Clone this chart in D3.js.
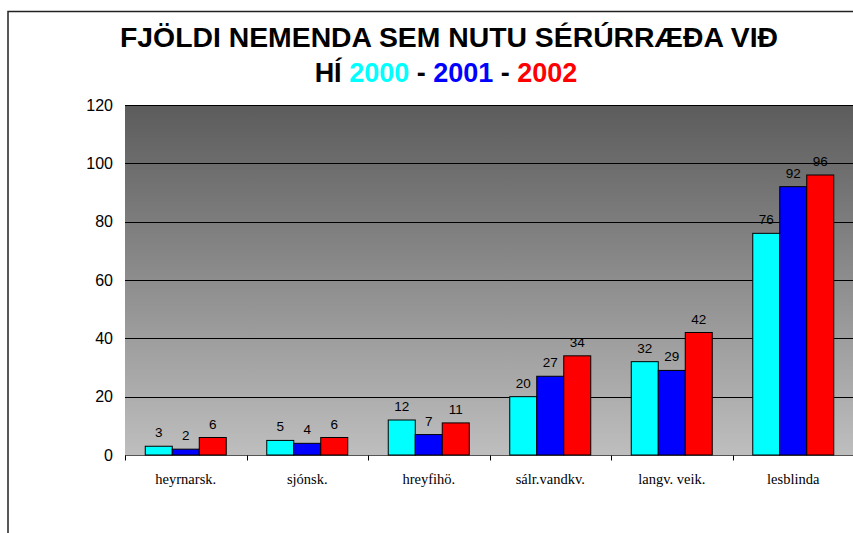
<!DOCTYPE html>
<html>
<head>
<meta charset="utf-8">
<script src="https://cdn.jsdelivr.net/npm/d3@7"></script>
<style>
  body { margin: 0; background: #fff; }
</style>
</head>
<body>
<script>
var categories = ['heyrnarsk.', 'sjónsk.', 'hreyfihö.', 'sálr.vandkv.', 'langv. veik.', 'lesblinda'];
var years = ['2000', '2001', '2002'];
var v2000 = [3, 5, 12, 20, 32, 76];
var v2001 = [2, 4, 7, 27, 29, 92];
var v2002 = [6, 6, 11, 34, 42, 96];
var yTicks = [0, 20, 40, 60, 80, 100, 120];
var colors = ['#00ffff', '#0000ff', '#ff0000'];

var series = [v2000, v2001, v2002];
var width = 853, height = 533;
var plot = { left: 125, top: 105, right: 854, bottom: 455 };

var svg = d3.select('body').append('svg')
  .attr('width', width)
  .attr('height', height);

// outer chart frame
svg.append('rect')
  .attr('x', 8).attr('y', 11.5)
  .attr('width', 900).attr('height', 600)
  .attr('fill', 'none')
  .attr('stroke', '#222')
  .attr('stroke-width', 1.5);

var grad = svg.append('defs').append('linearGradient')
  .attr('id', 'bg').attr('x1', 0).attr('y1', 0).attr('x2', 0).attr('y2', 1);
grad.append('stop').attr('offset', '0%').attr('stop-color', '#5c5c5c');
grad.append('stop').attr('offset', '100%').attr('stop-color', '#bebebe');

var x = d3.scaleBand()
  .domain(categories)
  .range([plot.left, plot.right]);

var x1 = d3.scaleBand()
  .domain(years)
  .range([0, x.bandwidth()])
  .paddingOuter(0.75)
  .paddingInner(0);

var y = d3.scaleLinear()
  .domain([0, 120])
  .range([plot.bottom, plot.top]);

svg.append('rect')
  .attr('x', plot.left).attr('y', plot.top)
  .attr('width', plot.right - plot.left)
  .attr('height', plot.bottom - plot.top)
  .attr('fill', 'url(#bg)');

// gridlines
svg.append('g').selectAll('line')
  .data(yTicks.slice(1))
  .enter().append('line')
  .attr('x1', plot.left).attr('x2', plot.right)
  .attr('y1', d => Math.round(y(d)) + 0.5)
  .attr('y2', d => Math.round(y(d)) + 0.5)
  .attr('stroke', '#000')
  .attr('stroke-width', 1);

// y axis labels
var yAxis = d3.axisLeft(y).tickValues(yTicks).tickSize(0).tickPadding(12);
var gy = svg.append('g')
  .attr('transform', 'translate(' + plot.left + ',0)')
  .call(yAxis);
gy.select('.domain').remove();
gy.selectAll('text')
  .attr('font-family', 'Liberation Sans, Arial, sans-serif')
  .attr('font-size', 16)
  .attr('fill', '#000');

// x axis
var xAxis = d3.axisBottom(x).tickSize(0).tickPadding(18);
var gx = svg.append('g')
  .attr('transform', 'translate(0,' + (plot.bottom + 0.5) + ')')
  .call(xAxis);
gx.select('.domain').attr('stroke', '#555').attr('d', 'M' + plot.left + ',0H' + plot.right);
gx.selectAll('text')
  .attr('font-family', 'Liberation Serif, Times New Roman, serif')
  .attr('font-size', 14.5)
  .attr('fill', '#000');
gx.selectAll('line.sep')
  .data(categories)
  .enter().append('line')
  .attr('class', 'sep')
  .attr('x1', d => Math.round(x(d)) + 0.5)
  .attr('x2', d => Math.round(x(d)) + 0.5)
  .attr('y1', 0).attr('y2', 5)
  .attr('stroke', '#000');

// bars
var groups = svg.append('g').selectAll('g')
  .data(categories)
  .enter().append('g')
  .attr('transform', d => 'translate(' + x(d) + ',0)');

groups.selectAll('rect')
  .data((d, i) => years.map((yr, j) => ({ yr: yr, v: series[j][i], c: colors[j] })))
  .enter().append('rect')
  .attr('x', d => x1(d.yr))
  .attr('y', d => y(d.v))
  .attr('width', x1.bandwidth())
  .attr('height', d => y(0) - y(d.v))
  .attr('fill', d => d.c)
  .attr('stroke', '#000')
  .attr('stroke-width', 1);

groups.selectAll('text')
  .data((d, i) => years.map((yr, j) => ({ yr: yr, v: series[j][i] })))
  .enter().append('text')
  .attr('x', d => x1(d.yr) + x1.bandwidth() / 2)
  .attr('y', d => y(d.v) - 9)
  .attr('text-anchor', 'middle')
  .attr('font-family', 'Liberation Sans, Arial, sans-serif')
  .attr('font-size', 13.5)
  .attr('fill', '#000')
  .text(d => d.v);

// title
svg.append('text')
  .attr('x', 449).attr('y', 47)
  .attr('text-anchor', 'middle')
  .attr('font-family', 'Liberation Sans, Arial, sans-serif')
  .attr('font-weight', 'bold')
  .attr('font-size', 27.5)
  .attr('fill', '#000')
  .attr('textLength', 658)
  .attr('lengthAdjust', 'spacingAndGlyphs')
  .text('FJÖLDI NEMENDA SEM NUTU SÉRÚRRÆÐA VIÐ');

var t2 = svg.append('text')
  .attr('x', 446).attr('y', 82)
  .attr('text-anchor', 'middle')
  .attr('font-family', 'Liberation Sans, Arial, sans-serif')
  .attr('font-weight', 'bold')
  .attr('font-size', 27)
  .attr('fill', '#000');
t2.append('tspan').text('HÍ ');
t2.append('tspan').attr('fill', colors[0]).text(years[0]);
t2.append('tspan').text(' - ');
t2.append('tspan').attr('fill', colors[1]).text(years[1]);
t2.append('tspan').text(' - ');
t2.append('tspan').attr('fill', colors[2]).text(years[2]);
</script>
</body>
</html>
